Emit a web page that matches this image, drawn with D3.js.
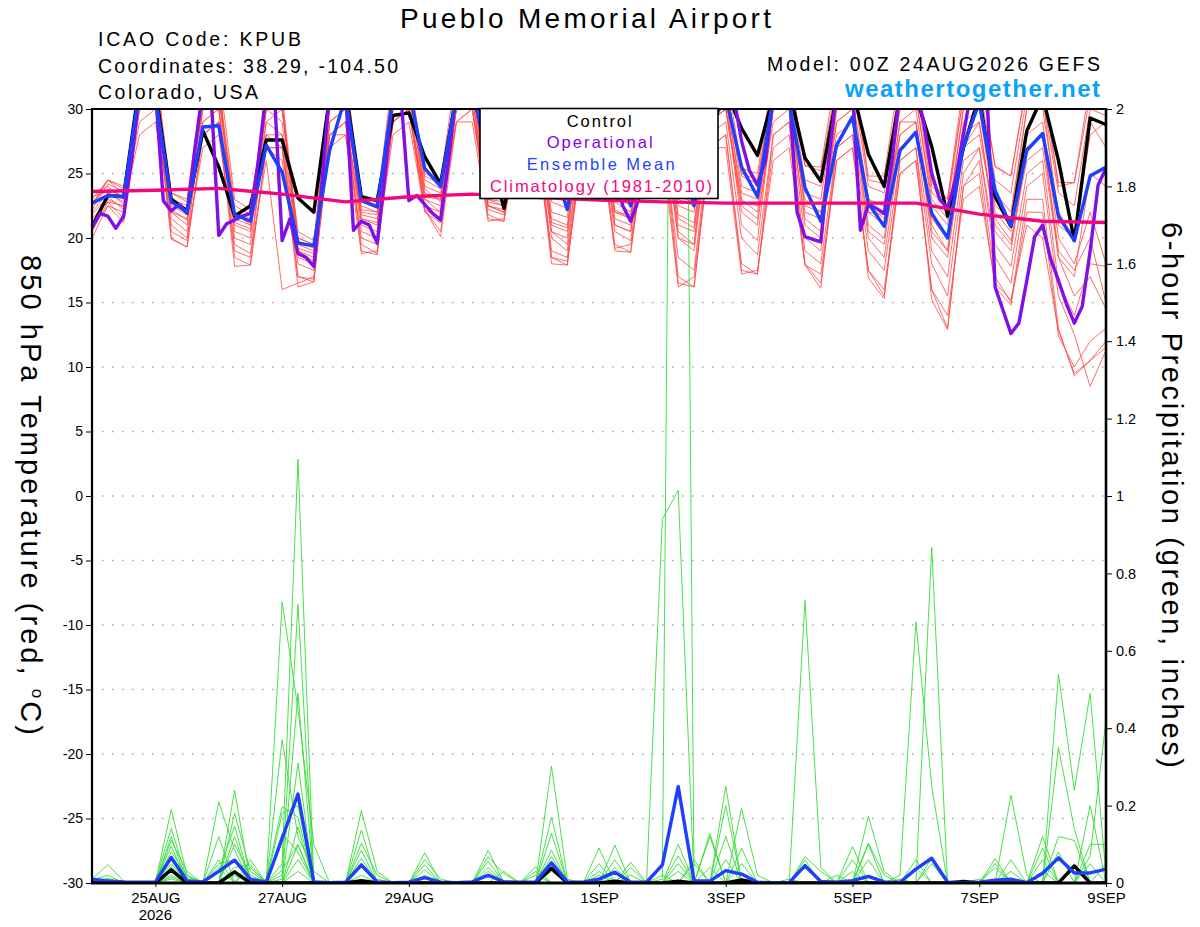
<!DOCTYPE html>
<html>
    <head>
        <meta charset="utf-8">
        <title>Pueblo Memorial Airport - GEFS</title>
        <script src="https://d3js.org/d3.v7.min.js"></script>
    </head>
    <body style="margin:0; background:#fff;">

        <style type="text/css">
            svg text { font-family: "Liberation Sans", Arial, Helvetica, sans-serif; fill: #000; }
            .grid line { stroke: #a8a8a8; stroke-width: 1.3; stroke-dasharray: 1.5,8.5; }
            .member-t { fill: none; stroke: #ff4848; stroke-width: 0.8; stroke-linejoin: round; }
            .member-p { fill: none; stroke: #33dd33; stroke-width: 0.9; stroke-linejoin: round; }
            .thick { fill: none; stroke-width: 3.4; stroke-linejoin: round; stroke-linecap: round; }
            .control { stroke: #000; }
            .oper { stroke: #8010e6; }
            .mean { stroke: #1f3fff; }
            .climo { stroke: #f0087c; }
            .axis path { display: none; }
            .axis line { stroke: #000; stroke-width: 1; }
            .axis text { font-size: 14px; }
            .frame { stroke: #000; }
        </style>

        <script>
            // ---- data (6-hourly unless noted), 00Z 24AUG2026 to 00Z 9SEP2026 ----
            var controlTemp = [20.9,23.3,23.2,32, 31.5,23.0,22.1,28.3, 25.5,21.7,22.5,27.6, 27.6,23.1,22.0,31, 31.5,23.2,22.9,29.5, 29.7,26.3,24.2,31, 31.5,27,22.3,28, 31.5,27,23.5,29, 31.5,27,23.8,29, 31.5,28,23.8,29, 31.5,28.5,26.4,31, 31.5,26.2,24.4,31, 31.5,26.5,24.0,31, 31,27.1,21.7,27, 31,23.2,20.9,28.3, 31,26,19.8,29.3, 28.8];
            var meanTemp = [22.7,23.3,23.2,31.5, 31,22.8,22.0,28.6, 28.7,21.8,21.3,27.2, 25.1,19.6,19.4,26.8, 31,22.9,22.4,31, 31.5,25.4,24.0,31, 31.5,26,23.3,29, 31.5,26,22.2,28.5, 31,25.5,22.5,28, 31,27,22.5,28.5, 31,25.5,23.2,31, 30.5,23.9,21.3,27.2, 29.4,22.7,20.9,26.8, 28.2,21.9,20.0,27.1, 30.5,23.7,20.9,26.8, 28.1,21.7,19.8,24.8, 25.5];
            // operational run is 3-hourly
            var operationalTemp = [20.8,21.9,21.7,20.75,21.7,26,31.5,32, 31.5,22.9,22.1,22.6,21.9,27,31.5,31.5, 20.2,21.1,21.4,21.7,21.9,26,31.5,31.5, 19.8,21.5,18.8,18.5,17.8,24,31.5,32, 31.5,20.6,21.3,21.0,19.6,25,31.5,31, 22.9,23.3,22.6,21.9,21.4,26,31.5,32, 31.5,29,25,23.6,23.4,24.5,28,31.5, 32,31,26,24,23.5,24,27.5,31.5, 32,31,25,22.5,21.3,23,27.5,31.5, 32,31,26,24,23.6,24.5,28,31.5, 32,31,27.5,25.2,24.1,26,31,32, 31.5,22.0,20.1,19.9,19.7,26,31.5,32, 31.5,20.6,22.6,22.3,21.9,26,31.5,32, 31.5,29,25,23,22.3,24.5,28,31.5, 31.5,31,16.2,14.4,12.6,13.4,16.7,20.1, 21.0,18.4,16.7,14.9,13.4,14.7,19.0,24.1, 25.4];
            // climatology is daily at 00Z
            var climoTemp = [23.6,23.7,23.85,23.4,22.8,23.2,23.4,23.15,22.95,22.8,22.7,22.7,22.7,22.7,21.85,21.3,21.2];

            var tempMember01 = [22.5,24.5,23.8,31, 33,23.5,22.8,30, 31,22.5,21.8,29, 30,20.5,19.8,30, 32,22.9,22.6,32, 33,24.8,24.2,32, 33,24,23.5,31, 32,23.2,22.8,31, 32,23.5,23,31, 32,23,22.5,31, 32,25,24.5,32, 33,25.6,25.2,32, 33,24.5,24.2,32, 32,24.3,23,31, 33,25.5,24.8,32, 32,24.3,24.3,31, 30];
            var tempMember02 = [21,23,22.4,32, 32,22,21.5,31, 32,21,20.5,30, 29,19,18.5,31, 31,21.5,21,31, 32,23.5,23,31, 32,23,22.8,32, 31,21,20.5,30, 31,22,21.5,30, 31,21.5,20.8,30, 31,23.5,23,31, 32,22,21.5,31, 31,22,21.8,30, 31,22.5,21,30, 31,23.5,22,30, 31,21,20,29, 27];
            var tempMember03 = [23.5,24,23,30, 31,21.5,20.5,29, 30,20,19.5,28, 27,18,17.5,29, 30,20.5,20,30, 31,22.5,22,30, 31,22.5,22,30, 31,20,19,29, 30,21,20.5,29, 30,20,19.5,29, 30,22,21,30, 31,21,20,29, 30,20.5,19.5,28, 29,20,18.5,27, 29,20.5,19,27, 28,18.5,17,25, 24];
            var tempMember04 = [20,22.5,22,31, 33,20,19.3,28, 29,18.5,17.9,27, 26,17,16.6,28, 29,19.5,18.8,29, 30,22.2,21.5,30, 31,21.8,21.3,29, 30,18.5,17.9,28, 29,19.5,18.9,28, 29,17,16.2,27, 28,18,17.2,27, 28,18,16.5,26, 27,17.5,15.5,25, 26,16,13,24, 26,17,15,23, 23,13,9.3,10.5, 12];
            var tempMember05 = [22,23.5,22.8,31, 32,22.5,21.8,31, 31,22,21.2,30, 30,19.5,19,30, 31,22,21.8,31, 32,24,23.5,31, 32,23.5,23.2,31, 31,22,21.6,31, 31,22.8,22,31, 31,22.5,22,31, 32,24,23.5,31, 32,23.5,23,31, 31,23,22.5,31, 31,23,21.5,30, 31,22.5,21.5,30, 30,22,20,28, 29];
            var tempMember06 = [21.5,22.8,22.5,29, 30,21,20,27, 28,19.5,18.8,26, 16,16.5,17,27, 28,20,19.5,28, 29,22,21.2,29, 30,22.2,21.8,29, 29,19,18.5,28, 29,20.5,19.8,28, 28,18.5,17.5,28, 29,20,18.7,28, 29,19,18,27, 28,19,17.5,26, 27,18,15.5,25, 27,18.5,16.5,24, 25,15.5,12.5,8.5, 11.3];
            var tempMember07 = [23,24.5,24,32, 33,23.5,23,32, 33,23,22.2,31, 31,20,19.5,32, 33,23,22.5,33, 33,25,24.5,33, 33,24,23.8,32, 33,23.5,23,32, 33,23.5,23.2,32, 33,23.5,23,32, 33,25.4,25,33, 33,25.6,25.5,33, 33,24.8,24.8,33, 33,24,23,32, 33,25.6,24.8,32, 32,24,24.3,32, 31];
            var tempMember08 = [20.5,22.8,21.5,30, 31,20.5,19.8,30, 30,19,18.5,29, 28,17,16.8,29, 30,19,18.7,30, 30,22.2,20.5,30, 30,21.5,21.3,29, 29,18,17.9,28, 29,19,18.9,28, 28,16.5,16.2,27, 28,17.5,17.2,28, 29,17.9,16.1,27, 28,16.9,15.3,26, 27,15.2,12.9,24, 25,16.2,14.8,22, 22,12.4,10,12, 13];
            var tempMember09 = [22.8,23.8,23.2,31, 32,23,22.5,30, 31,21.5,21,30, 30,20,19.5,29, 30,22.5,22,31, 31,23.8,22.8,31, 31,23,22.5,30, 30,21.5,21,30, 30,22,21.8,30, 30,21.8,21.2,30, 31,23,22,30, 31,22.5,22,30, 30,22,21,29, 30,21.5,20,29, 30,22,20.5,28, 29,20,18,22, 18];
            var tempMember10 = [21.8,23.2,22.2,33, 34,22,21,32, 32,20.5,20,31, 31,18.5,18,31, 32,21,20.5,32, 32,23,22,32, 32,22.8,22.5,31, 31,20.5,20,31, 31,21.5,21,31, 31,20.5,19.5,31, 31,21,19.8,30, 30,20,19,30, 30,21,20,29, 29,20.5,19,28, 29,21,19.5,27, 28,19,17.5,20, 15];
            var tempMember11 = [23.2,23.6,22.6,28, 29,22.2,21.4,28, 29,21.2,20.7,27, 27,19,18.2,28, 29,21.5,21.2,29, 30,23,22.5,29, 30,22.5,22,28, 29,20.5,19.5,29, 29,21,20.5,29, 29,20,19,29, 30,22.5,21.5,29, 30,21.5,20.5,28, 29,20,18.5,27, 28,19,17,26, 27,19.5,17.8,25, 26,16.5,14,18, 17.8];
            var tempMember12 = [22.2,24.2,23.6,32, 32,23.2,22.2,31, 32,22,21.5,30, 30,19.8,19.2,31, 32,22.2,22,32, 32,24.5,23.8,32, 32,23.8,23.5,32, 32,22.8,22.3,32, 32,23,22.6,32, 32,23.2,22.8,32, 32,24.8,24.2,32, 32,24.5,24,32, 32,24,23.5,31, 32,23.5,22.5,31, 32,24.5,23.5,31, 31,23.5,22.5,30, 29.5];
            var tempMember13 = [20.8,22.5,21.2,30, 31,19.9,19.3,28, 29,17.8,17.9,27, 27,16.2,16.6,28, 28,18.8,19,29, 30,22.2,20.1,29, 29,21.3,21.5,28, 28,18.5,18.2,27, 28,19.2,19.5,27, 27,16.2,17,27, 27,17.2,17.5,26, 27,17.9,17.2,26, 27,17.5,16,25, 26,16,14,23, 24,16.5,15.2,21, 20,12.8,9.5,10.5, 11.5];
            var tempMember14 = [22.6,24.5,23.4,30, 31,22.8,22.3,29, 30,22,21,28, 28,19.2,18.8,28, 29,21.8,21.5,29, 30,23.2,23,30, 30,22.5,22.2,30, 30,21.2,20.8,29, 30,22.2,21.5,29, 29,21,20.5,29, 30,22.8,22.5,30, 30,23,22,29, 30,22.5,21.5,28, 29,21,19,27, 28,21.5,19.8,26, 27,18.5,15.5,17, 14.5];

            var controlPrecip = [0,0,0,0, 0,.034,0,0, 0,.029,0,0, 0,0,0,0, 0,.006,0,0, 0,0,0,0, 0,0,0,0, 0,.038,0,0, 0,.005,0,0, 0,.005,0,0, 0,.008,0,0, 0,0,0,0, 0,0,0,0, 0,0,0,.004, 0,0,0,0, 0,0,.044,0, 0];
            var meanPrecip = [.01,.005,.003,.002, .003,.066,.005,.003, .03,.059,.01,.002, .115,.23,.003,.001, .002,.047,.003,.001, .002,.014,.002,.001, .003,.02,.003,.002, .003,.052,.003,.002, .01,.028,.002,.002, .047,.249,.005,.005, .032,.023,.002,.001, .001,.045,.004,.002, .006,.017,.003,.002, .036,.064,.002,.001, .002,.007,.01,.001, .025,.065,.026,.026, .036];

            var precipMember01 = [.01,.047,.005,0, 0,.19,.02,0, 0,.24,0,0, .05,1.095,0,0, 0,.02,0,0, 0,0,0,0, 0,.085,0,0, 0,0,0,0, .05,0,0,0, 0,.10,0,0, .06,0,0,0, 0,.059,0,0, 0,0,0,0, 0,.064,0,0, 0,0,0,0, .06,0,0,0, 0];
            var precipMember02 = [0,0,0,0, .005,.141,.01,0, 0,.18,.03,0, .02,.72,0,0, 0,0,0,0, 0,.078,0,0, 0,0,0,0, .042,0,0,0, 0,.098,0,0, 0,0,0,.128, 0,0,0,0, .01,0,0,0, 0,.06,0,0, 0,0,0,0, 0,.063,0,0, 0,.08,0,0, 0];
            var precipMember03 = [.008,.02,0,0, 0,.12,0,0, .03,.147,0,.01, .197,.17,0,0, 0,.187,.03,0, 0,0,0,0, 0,0,0,0, 0,.302,.01,0, 0,0,0,0, .02,0,0,0, .2,0,0,0, 0,0,0,.02, 0,0,0,0, .06,0,0,0, 0,0,0,0, .12,0,0,0, 0];
            var precipMember04 = [0,0,0,0, 0,.11,.03,0, 0,.12,0,0, .01,.49,0,0, 0,.137,0,0, 0,0,0,0, 0,.068,.024,0, 0,0,0,0, .03,0,0,0, 0,.07,0,0, 0,.05,0,0, 0,0,0,0, .094,0,0,0, 0,0,0,0, 0,.04,0,0, 0,0,0,.05, 0];
            var precipMember05 = [.005,.012,0,0, 0,.096,0,0, .21,.085,0,0, 0,.31,0,0, 0,0,0,0, 0,.06,.01,0, 0,0,0,0, 0,.17,0,0, 0,0,.04,0, 0,0,0,0, .25,0,0,0, 0,0,0,0, 0,.173,.029,0, 0,0,0,0, 0,0,0,0, 0,.54,.24,.49, .02];
            var precipMember06 = [0,0,0,0, .004,.068,.015,0, .12,0,.06,0, .727,.45,.1,0, 0,.103,.02,0, 0,0,0,0, 0,0,0,0, .03,0,0,0, 0,.06,0,0, 0,0,.06,0, 0,0,0,0, 0,.04,0,0, 0,0,0,.01, 0,0,0,0, 0,0,.227,.02, 0,0,0,0, 0];
            var precipMember07 = [0,0,0,0, 0,.042,0,0, .05,.06,0,0, .18,.2,0,0, 0,0,0,0, 0,.047,0,0, 0,0,0,0, 0,.128,0,0, 0,0,0,0, 0,.05,0,0, 0,.193,.02,0, 0,0,0,0, 0,0,0,0, .04,0,0,0, 0,0,0,0, .09,0,0,0, .05];
            var precipMember08 = [0,0,0,0, 0,.03,0,0, 0,.04,.047,0, 0,.145,0,0, 0,.085,0,0, 0,0,0,0, 0,.056,0,0, 0,0,0,0, .09,0,0,0, 0,0,0,.12, 0,0,0,0, 0,.068,.03,0, 0,0,0,0, 0,0,0,0, .01,0,0,0, 0,.35,.14,0, 0];
            var precipMember09 = [.012,.008,0,0, 0,.02,0,0, 0,.02,0,0, .37,.12,.03,0, 0,0,0,0, 0,.034,0,0, 0,0,0,0, 0,.085,0,0, 0,0,.054,0, 0,0,0,0, .12,0,0,0, 0,0,0,0, 0,.103,.02,0, 0,0,0,0, 0,0,.03,0, 0,0,0,.2, 0];
            var precipMember10 = [0,0,0,0, 0,.05,0,0, 0,.1,.02,0, 0,.098,0,0, 0,0,.01,0, 0,0,0,0, 0,0,.03,0, 0,.068,0,0, 0,0,0,0, .94,1.015,0,0, 0,0,0,0, 0,0,0,0, .06,0,0,0, 0,.05,0,0, 0,0,0,0, .03,0,0,0, 0];
            var precipMember11 = [0,0,0,0, 0,.08,.02,0, 0,0,.04,0, .128,.08,0,0, 0,.064,0,0, 0,0,0,0, 0,.04,0,0, 0,0,0,0, .02,0,0,0, .01,5,0,0, 0,0,0,0, 0,0,0,0, 0,.1,0,0, 0,0,0,0, 0,.05,0,0, 0,0,.05,0, 0];
            var precipMember12 = [0,0,0,0, 0,.01,0,0, .04,0,0,0, .033,.1,0,0, 0,0,0,0, 0,.02,0,0, 0,0,0,0, .02,0,0,0, 0,.04,0,0, 0,0,0,.04, 0,0,0,0, 0,.73,.04,0, 0,0,0,0, 0,0,0,0, 0,0,.06,0, 0,0,0,.07, .42];
            var precipMember13 = [0,0,0,0, 0,.06,0,0, 0,.03,0,0, 0,.06,0,0, 0,.04,0,0, 0,0,0,0, 0,0,0,0, 0,.05,0,0, 0,0,0,0, 0,.03,0,0, 0,.09,0,0, 0,0,0,0, 0,0,0,.02, .675,.25,0,0, 0,0,0,0, 0,0,0,.1, .1];
            var precipMember14 = [0,0,0,0, 0,.015,0,0, .06,0,0,0, 0,.03,0,0, 0,0,0,0, 0,0,0,0, 0,.03,0,0, 0,.03,0,0, 0,0,.02,0, 0,0,.05,0, 0,0,0,0, 0,0,0,0, .03,0,0,0, 0,.867,0,0, 0,0,0,0, 0,.12,.11,0, 0];

            var tempMembers = [tempMember01, tempMember02, tempMember03, tempMember04, tempMember05, tempMember06, tempMember07,
                               tempMember08, tempMember09, tempMember10, tempMember11, tempMember12, tempMember13, tempMember14];
            var precipMembers = [precipMember01, precipMember02, precipMember03, precipMember04, precipMember05, precipMember06, precipMember07,
                                 precipMember08, precipMember09, precipMember10, precipMember11, precipMember12, precipMember13, precipMember14];

            var tempTicks = [-30, -25, -20, -15, -10, -5, 0, 5, 10, 15, 20, 25, 30];
            var precipTicks = [0, 0.2, 0.4, 0.6, 0.8, 1, 1.2, 1.4, 1.6, 1.8, 2];
            var dateTicks = ["2026-08-25", "2026-08-27", "2026-08-29", "2026-09-01", "2026-09-03", "2026-09-05", "2026-09-07", "2026-09-09"];
            var legendItems = ["Control", "Operational", "Ensemble Mean", "Climatology (1981-2010)"];
            var legendColors = ["#000000", "#8a00e6", "#1f3fff", "#f0087c"];

            // ---- layout ----
            var svgWidth = 1200, svgHeight = 927,
                margin = {top: 109, right: 94, bottom: 44, left: 92},
                width = svgWidth - margin.left - margin.right,
                height = svgHeight - margin.top - margin.bottom;

            var runStart = Date.UTC(2026, 7, 24, 0);
            var hour = 3600 * 1000;
            var times6h = d3.range(controlTemp.length).map(i => new Date(runStart + i * 6 * hour));
            var times3h = d3.range(operationalTemp.length).map(i => new Date(runStart + i * 3 * hour));
            var timesDaily = d3.range(climoTemp.length).map(i => new Date(runStart + i * 24 * hour));

            var xScale = d3.scaleUtc()
                            .domain([times6h[0], times6h[times6h.length - 1]])
                            .range([0, width]);
            var tScale = d3.scaleLinear().domain([-30, 30]).range([height, 0]);
            var pScale = d3.scaleLinear().domain([0, 2]).range([height, 0]);

            function lineOn(times, scale) {
                return d3.line()
                    .x((d, i) => xScale(times[i]))
                    .y(d => scale(d));
            }

            var root = d3.select("body").append("svg")
                            .attr("width", svgWidth)
                            .attr("height", svgHeight);

            root.append("defs").append("clipPath").attr("id", "plotclip")
                .append("rect").attr("x", 0).attr("y", 0)
                .attr("width", width).attr("height", height);

            var svg = root.append("g")
                            .attr("transform", "translate(" + margin.left + "," + margin.top + ")");

            // dotted grid on the temperature ticks
            svg.append("g").attr("class", "grid")
                .selectAll("line").data(tempTicks.filter(d => d > -30 && d < 30)).enter().append("line")
                .attr("x1", 0).attr("x2", width)
                .attr("y1", d => tScale(d)).attr("y2", d => tScale(d));

            var plot = svg.append("g").attr("clip-path", "url(#plotclip)");

            plot.selectAll(".member-t").data(tempMembers).enter().append("path")
                .attr("class", "member-t")
                .attr("d", lineOn(times6h, tScale));

            plot.selectAll(".member-p").data(precipMembers).enter().append("path")
                .attr("class", "member-p")
                .attr("d", lineOn(times6h, pScale));

            plot.append("path").datum(controlTemp).attr("class", "thick control").attr("d", lineOn(times6h, tScale));
            plot.append("path").datum(controlPrecip).attr("class", "thick control").attr("d", lineOn(times6h, pScale));
            plot.append("path").datum(operationalTemp).attr("class", "thick oper").attr("d", lineOn(times3h, tScale));
            plot.append("path").datum(meanTemp).attr("class", "thick mean").attr("d", lineOn(times6h, tScale));
            plot.append("path").datum(meanPrecip).attr("class", "thick mean").attr("d", lineOn(times6h, pScale));
            plot.append("path").datum(climoTemp).attr("class", "thick climo").attr("d", lineOn(timesDaily, tScale));

            // axes
            svg.append("g").attr("class", "axis")
                .call(d3.axisLeft(tScale).tickValues(tempTicks).tickSize(6).tickPadding(3)
                        .tickFormat(d => String(d)));

            svg.append("g").attr("class", "axis")
                .attr("transform", "translate(" + width + ",0)")
                .call(d3.axisRight(pScale).tickValues(precipTicks).tickSize(6).tickPadding(4)
                        .tickFormat(d => String(d)))
                .selectAll("text").style("font-size", "14.5px");

            var xAxis = svg.append("g").attr("class", "axis")
                .attr("transform", "translate(0," + height + ")")
                .call(d3.axisBottom(xScale)
                        .tickValues(dateTicks.map(d => new Date(d + "T00:00:00Z")))
                        .tickSize(4).tickPadding(5)
                        .tickFormat(d => d3.utcFormat("%-d%b")(d).toUpperCase()));
            xAxis.selectAll("text").style("font-size", "15px");
            svg.append("text")
                .attr("x", xScale(new Date(dateTicks[0] + "T00:00:00Z"))).attr("y", height + 37)
                .attr("text-anchor", "middle").style("font-size", "15px")
                .text("2026");

            // frame
            svg.append("line").attr("class", "frame").attr("x1", 0).attr("x2", width).attr("y1", 0).attr("y2", 0).attr("stroke-width", 2);
            svg.append("line").attr("class", "frame").attr("x1", 0).attr("x2", 0).attr("y1", -1).attr("y2", height + 1).attr("stroke-width", 2.2);
            svg.append("line").attr("class", "frame").attr("x1", width).attr("x2", width).attr("y1", -1).attr("y2", height + 1).attr("stroke-width", 2.6);
            svg.append("line").attr("class", "frame").attr("x1", -1).attr("x2", width + 1).attr("y1", height).attr("y2", height).attr("stroke-width", 3.2);

            // text helpers: the source renderer spaces glyphs wider, so stretch to measured widths
            function fit(sel, target) {
                sel.each(function () {
                    var len = this.getComputedTextLength(), n = this.textContent.length;
                    if (n > 1) d3.select(this).attr("letter-spacing", (target - len) / (n - 1));
                });
                return sel;
            }
            function label(x, y, str, size, target, weight, color) {
                var t = root.append("text").attr("x", x).attr("y", y)
                            .style("font-size", size + "px")
                            .style("font-weight", weight || "normal")
                            .style("fill", color || "#000")
                            .text(str);
                return fit(t, target);
            }

            label(400, 28, "Pueblo Memorial Airport", 28, 371);
            label(98, 46, "ICAO Code: KPUB", 19.5, 203);
            label(98, 72.7, "Coordinates: 38.29, -104.50", 19.5, 300);
            label(98, 99.3, "Colorado, USA", 19.5, 160);
            label(767, 71, "Model: 00Z 24AUG2026 GEFS", 19.5, 333);
            label(845, 97, "weathertogether.net", 24, 255, "bold", "#0aa2f7");

            // axis titles, rotated to read top-down
            var leftTitle = root.append("text")
                .attr("transform", "translate(21,255) rotate(90)")
                .style("font-size", "29px");
            leftTitle.append("tspan").text("850 hPa Temperature (red, ");
            leftTitle.append("tspan").attr("dy", -11).style("font-size", "17px").text("o");
            leftTitle.append("tspan").attr("dy", 11).text("C)");
            fit(leftTitle, 480);

            var rightTitle = root.append("text")
                .attr("transform", "translate(1162,222) rotate(90)")
                .style("font-size", "29px")
                .text("6-hour Precipitation (green, inches)");
            fit(rightTitle, 546);

            // legend box
            var legend = root.append("g");
            legend.append("rect")
                .attr("x", 480).attr("y", 108.5).attr("width", 238).attr("height", 90)
                .attr("fill", "#fff").attr("stroke", "#000").attr("stroke-width", 1.6);
            var legendLeft = [566.7, 546.7, 526.7, 490];
            var legendWidth = [65, 106, 148, 222];
            legendItems.forEach(function (name, i) {
                var t = legend.append("text")
                    .attr("x", legendLeft[i]).attr("y", 126.7 + i * 21.7)
                    .style("font-size", "16.5px").style("fill", legendColors[i])
                    .text(name);
                fit(t, legendWidth[i]);
            });
        </script>
    </body>
</html>
